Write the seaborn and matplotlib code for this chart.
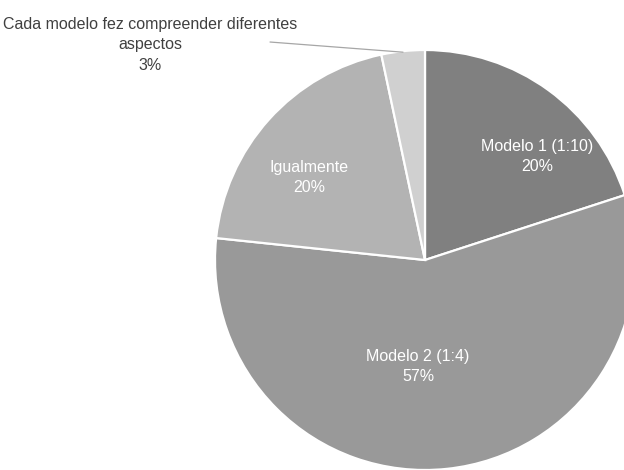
import matplotlib
matplotlib.use("Agg")
import matplotlib.pyplot as plt
import seaborn as sns
import numpy as np
from matplotlib import font_manager

sns.set_theme(style="white")

names = [f.name for f in font_manager.fontManager.ttflist]
fam = "Liberation Sans Narrow" if "Liberation Sans Narrow" in names else "Liberation Sans"
plt.rcParams['font.family'] = [fam, 'DejaVu Sans']

categories = ["Modelo 1 (1:10)", "Modelo 2 (1:4)", "Igualmente", "Cada modelo fez compreender diferentes\naspectos"]
counts = [6, 17, 6, 1]
pct_labels = ["20%", "57%", "20%", "3%"]
colors = ["#808080", "#999999", "#b3b3b3", "#d0d0d0"]

fig = plt.figure(figsize=(6.24, 4.70), dpi=100)
R = 210
cx, cy = 425, 260
ax = fig.add_axes([(cx - R) / 624, (470 - cy - R) / 470, 2 * R / 624, 2 * R / 470])
wedges, _ = ax.pie(counts, colors=colors, startangle=90, counterclock=False,
                   wedgeprops=dict(edgecolor="white", linewidth=1.6))
ax.set_xlim(-1, 1)
ax.set_ylim(-1, 1)
ax.set_aspect("equal")
ax.axis("off")

fs = 11.5
ls = 1.42
inside_pos = {0: (0.533, 0.495), 1: (-0.033, -0.505), 2: (-0.552, 0.395)}
for i, (x, y) in inside_pos.items():
    ax.text(x, y, f"{categories[i]}\n{pct_labels[i]}", ha="center", va="center",
            color="white", fontsize=fs, linespacing=ls, clip_on=False)

# outside label for the small slice
w = wedges[3]
mid = np.deg2rad((w.theta1 + w.theta2) / 2)
ex, ey = np.cos(mid), np.sin(mid)
ax.plot([-0.738, ex], [1.038, ey * 0.995], color="#a6a6a6", lw=0.9, clip_on=False)
ax.text(-1.31, 1.024, f"{categories[3]}\n{pct_labels[3]}", ha="center", va="center",
        color="#404040", fontsize=fs, linespacing=ls, clip_on=False)

fig.savefig("out.png", dpi=100)
